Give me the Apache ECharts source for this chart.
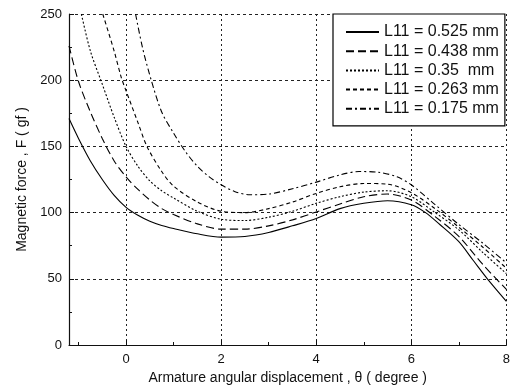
<!DOCTYPE html>
<html>
<head>
<meta charset="utf-8">
<script src="https://cdn.jsdelivr.net/npm/echarts@6/dist/echarts.min.js"></script>
<style>
  html, body { margin: 0; padding: 0; background: #fff; }
  #myChart { width: 513px; height: 392px; }
</style>
</head>
<body>
<div id="myChart"></div>
<script>
// series names (legend)
const seriesNames = ['L11 = 0.525 mm', 'L11 = 0.438 mm', 'L11 = 0.35  mm', 'L11 = 0.263 mm', 'L11 = 0.175 mm']

// angle (degree) and force (gf), one pair of arrays per curve
const theta525 = [-1.2, -1, -0.75, -0.5, -0.25, 0, 0.25, 0.5, 0.75, 1, 1.5, 2, 2.5, 3, 3.5, 4, 4.5, 5, 5.5, 6, 6.3, 6.6, 7, 7.3, 7.6, 8]
const force525 = [171, 156, 139, 125, 113, 104, 98, 93.5, 90.3, 88, 84, 81.5, 82, 85, 90, 95.5, 103, 107, 109, 106, 100, 91, 78, 64, 50, 33]

const theta438 = [-1.2, -1, -0.75, -0.5, -0.25, 0, 0.25, 0.5, 0.75, 1, 1.5, 2, 2.5, 3, 3.5, 4, 4.5, 5, 5.5, 6, 6.5, 7, 7.5, 8]
const force438 = [226, 199, 176, 156, 139, 127, 117.5, 109.5, 103, 98.5, 91.5, 87.5, 87.5, 90, 94.5, 100.5, 106.5, 112, 114, 109.5, 97, 82, 61, 42]

const theta350 = [-0.94, -0.75, -0.5, -0.25, 0, 0.25, 0.5, 0.75, 1, 1.5, 2, 2.5, 3, 3.5, 4, 4.5, 5, 5.5, 6, 6.5, 7, 7.5, 8]
const force350 = [250, 222, 197, 172, 150, 135, 124, 116.5, 111, 101, 95, 94, 96.5, 101, 107, 112, 115.5, 116.5, 112, 100, 87, 70, 54]

const theta263 = [-0.49, -0.25, -0.1, 0, 0.25, 0.44, 0.75, 1, 1.5, 2, 2.5, 3, 3.5, 4, 4.5, 5, 5.5, 6, 6.5, 7, 7.5, 8]
const force263 = [250, 222, 202, 192, 168, 150, 131, 120, 108, 101, 100, 103, 108, 114.5, 119.5, 122, 121.5, 115, 103, 89, 74, 58]

const theta175 = [0.2, 0.35, 0.53, 0.75, 1, 1.25, 1.5, 1.75, 2, 2.28, 2.6, 3, 3.5, 4, 4.5, 4.9, 5.3, 5.7, 6, 6.5, 7, 7.5, 8]
const force175 = [250, 224, 200, 176, 160, 146, 135, 127, 121, 116, 113.5, 114, 118, 123, 128.5, 131, 130.5, 127, 121, 106, 91, 77, 62]

// x tick labels shown
const xTickLabels = [0, 2, 4, 6, 8]

const thetas = [theta525, theta438, theta350, theta263, theta175]
const forces = [force525, force438, force350, force263, force175]
const dashTypes = ['solid', [8, 4], [2, 2], [4, 3], [6, 3, 2, 3]]

const FONT = 'Liberation Sans, Arial, sans-serif'

const target = echarts.init(document.getElementById('myChart'))
target.setOption({
  animation: false,
  textStyle: { fontFamily: FONT, color: '#111' },
  grid: { left: 69, right: 1, top: 14, bottom: 47 },
  // 图例
  legend: {
    orient: 'vertical',
    left: 333,
    top: 14,
    padding: [10, 6, 9, 12],
    itemWidth: 33,
    itemHeight: 16,
    itemGap: 3.2,
    backgroundColor: '#fff',
    borderColor: '#000',
    borderWidth: 1.2,
    borderRadius: 0,
    itemStyle: { opacity: 0 },
    data: seriesNames,
    textStyle: { fontSize: 16, color: '#111', fontFamily: FONT }
  },
  xAxis: {
    type: 'value',
    min: -1.2,
    max: 8,
    splitNumber: 5,
    name: 'Armature angular displacement , θ ( degree )',
    nameLocation: 'middle',
    nameGap: 16,
    nameTextStyle: { fontSize: 14, color: '#111', fontFamily: FONT },
    axisLine: { onZero: false, lineStyle: { color: '#111', width: 1.2 } },
    axisTick: { inside: true, length: 5, lineStyle: { color: '#111' } },
    minorTick: { show: true, splitNumber: 2, length: 3, lineStyle: { color: '#111' } },
    axisLabel: {
      fontSize: 13,
      color: '#111',
      margin: 8,
      formatter: v => (xTickLabels.indexOf(Math.round(v * 1000) / 1000) >= 0 ? String(v) : '')
    },
    splitLine: { show: true, lineStyle: { color: '#222', type: [2, 3], width: 1 } }
  },
  yAxis: {
    type: 'value',
    min: 0,
    max: 250,
    interval: 50,
    name: 'Magnetic force , F ( gf )',
    nameLocation: 'middle',
    nameGap: 31,
    nameTextStyle: { fontSize: 14, color: '#111', fontFamily: FONT },
    axisLine: { show: true, onZero: false, lineStyle: { color: '#111', width: 1.2 } },
    axisTick: { show: true, inside: true, length: 5, lineStyle: { color: '#111' } },
    minorTick: { show: true, splitNumber: 2, length: 3, lineStyle: { color: '#111' } },
    axisLabel: { fontSize: 13, color: '#111', margin: 7 },
    splitLine: { show: true, lineStyle: { color: '#222', type: [3, 3], width: 1 } }
  },
  // 数据
  series: seriesNames.map((name, i) => ({
    name: name,
    type: 'line',
    smooth: 0.3,
    symbol: 'none',
    clip: true,
    color: '#000',
    lineStyle: { color: '#000', width: 1.1, type: dashTypes[i] },
    data: thetas[i].map((t, k) => [t, forces[i][k]])
  }))
})
</script>
</body>
</html>
